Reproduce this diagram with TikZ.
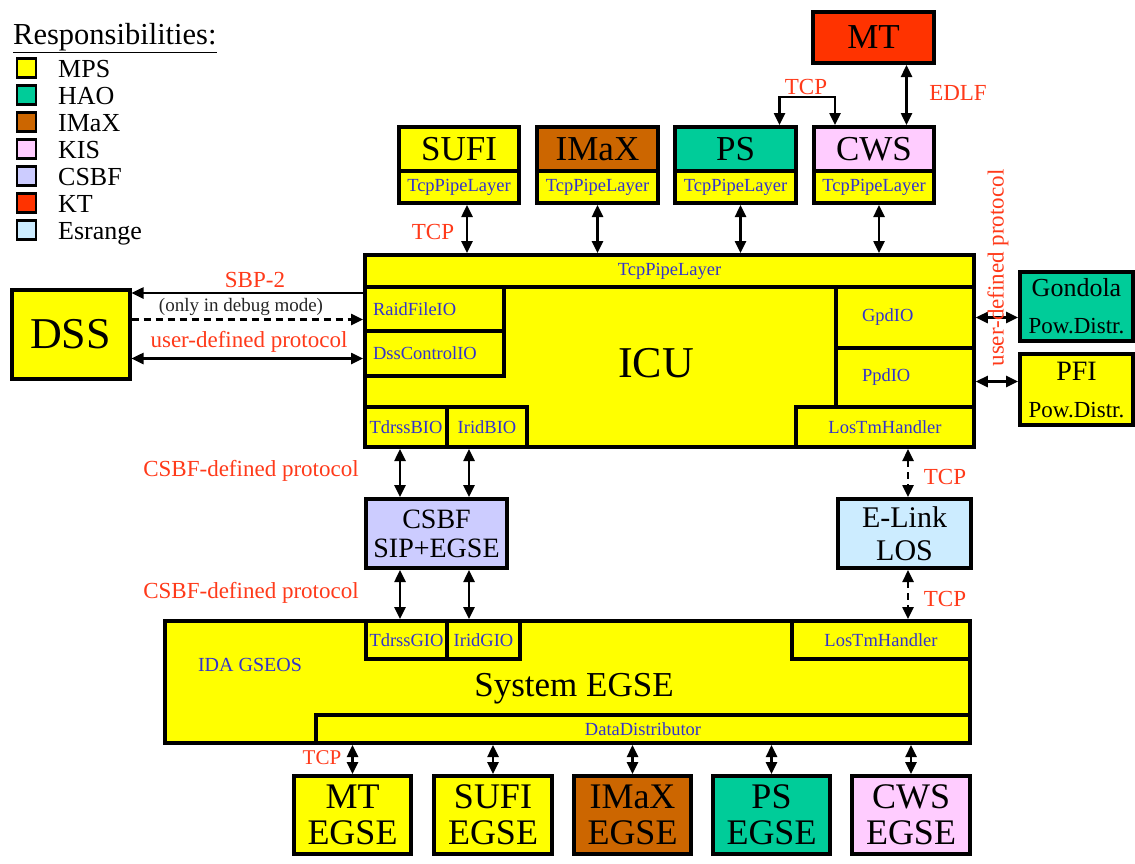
\documentclass[tikz,border=0pt]{standalone}
\usepackage{fontspec}
\setmainfont{Liberation Serif}
\usetikzlibrary{arrows.meta}
\definecolor{cmps}{HTML}{FFFF00}
\definecolor{chao}{HTML}{00CC99}
\definecolor{cimax}{HTML}{CC6600}
\definecolor{ckis}{HTML}{FFCCFF}
\definecolor{ccsbf}{HTML}{CCCCFF}
\definecolor{ckt}{HTML}{FF3300}
\definecolor{cesr}{HTML}{CCECFF}
\definecolor{cred}{HTML}{FF3A1A}
\definecolor{cblue}{HTML}{3333CC}
\newcommand\fLegT{\fontsize{30.5}{32}\selectfont}
\newcommand\fLeg{\fontsize{26}{28}\selectfont}
\newcommand\fTtl{\fontsize{35}{37}\selectfont}
\newcommand\fSub{\fontsize{18.5}{20}\selectfont}
\newcommand\fRed{\fontsize{23}{25}\selectfont}
\newcommand\fDbg{\fontsize{19}{21}\selectfont}
\newcommand\fDSS{\fontsize{44}{46}\selectfont}
\newcommand\fICU{\fontsize{44}{46}\selectfont}
\newcommand\fSys{\fontsize{35}{37}\selectfont}
\newcommand\fEG{\fontsize{36}{36}\selectfont}
\begin{document}
\begin{tikzpicture}[x=1pt,y=-1pt,
  bx/.style={draw=black,line width=4pt,inner sep=0pt},
  sb/.style={draw=black,line width=3.5pt,fill=cmps,inner sep=0pt,text=cblue,font=\fSub},
  lab/.style={text=cred,font=\fRed,inner sep=0pt},
  legbox/.style={draw=black,line width=2.5pt,minimum width=19pt,minimum height=19pt,inner sep=0pt},
  lgt/.style={anchor=base west,font=\fLeg,inner sep=0pt},
  tip/.style={line width=2.5pt,-{Triangle[length=12pt,width=11pt]}},
  dtip/.style={line width=2.5pt,{Triangle[length=12pt,width=11pt]}-{Triangle[length=12pt,width=11pt]}},
  dsh/.style={dash pattern=on 7pt off 5pt}]
\useasboundingbox[fill=white] (0,0) rectangle (1135,863);

% ---------- legend ----------
\node[anchor=base west,font=\fLegT,inner sep=0pt] (legT) at (13,44) {\underline{Responsibilities:}};
\node[legbox,fill=cmps]  (l1) at (26.5,68)  {};
\node[legbox,fill=chao]  (l2) at (26.5,95)  {};
\node[legbox,fill=cimax] (l3) at (26.5,122) {};
\node[legbox,fill=ckis]  (l4) at (26.5,149) {};
\node[legbox,fill=ccsbf] (l5) at (26.5,176) {};
\node[legbox,fill=ckt]   (l6) at (26.5,203) {};
\node[legbox,fill=cesr]  (l7) at (26.5,230) {};
\node[lgt] (l1t) at (58,77)  {MPS};
\node[lgt] (l2t) at (58,104) {HAO};
\node[lgt] (l3t) at (58,131) {IMaX};
\node[lgt] (l4t) at (58,158) {KIS};
\node[lgt] (l5t) at (58,185) {CSBF};
\node[lgt] (l6t) at (58,212) {KT};
\node[lgt] (l7t) at (58,239) {Esrange};

% ---------- top boxes ----------
\node[bx,fill=ckt,minimum width=121pt,minimum height=51pt,font=\fTtl] (mt) at (873.5,37.5) {MT};

\node[bx,fill=cmps,minimum width=120pt,minimum height=44pt,font=\fTtl] (sufiT) at (459,149) {SUFI};
\node[bx,fill=cmps,minimum width=120pt,minimum height=32pt,font=\fSub,text=cblue] (sufiL) at (459,187) {TcpPipeLayer};
\node[bx,fill=cimax,minimum width=121pt,minimum height=44pt,font=\fTtl] (imaxT) at (597.5,149) {IMaX};
\node[bx,fill=cmps,minimum width=121pt,minimum height=32pt,font=\fSub,text=cblue] (imaxL) at (597.5,187) {TcpPipeLayer};
\node[bx,fill=chao,minimum width=121pt,minimum height=44pt,font=\fTtl] (psT) at (735.5,149) {PS};
\node[bx,fill=cmps,minimum width=121pt,minimum height=32pt,font=\fSub,text=cblue] (psL) at (735.5,187) {TcpPipeLayer};
\node[bx,fill=ckis,minimum width=120pt,minimum height=44pt,font=\fTtl] (cwsT) at (874,149) {CWS};
\node[bx,fill=cmps,minimum width=120pt,minimum height=32pt,font=\fSub,text=cblue] (cwsL) at (874,187) {TcpPipeLayer};

% ---------- ICU ----------
\node[bx,fill=cmps,minimum width=609pt,minimum height=192pt] (icu) at (669.5,351) {};
\node[sb,minimum width=609pt,minimum height=32pt] (icuTcp) at (669.5,271) {TcpPipeLayer};
\node[sb,minimum height=44pt,text width=123pt,inner xsep=8pt,align=left] (raid) at (434.5,309) {RaidFileIO};
\node[sb,minimum height=45pt,text width=123pt,inner xsep=8pt,align=left] (dssc) at (434.5,353.5) {DssControlIO};
\node[sb,minimum height=61pt,text width=86pt,inner xsep=26pt,align=left] (gpd) at (905,317.5) {GpdIO};
\node[sb,minimum height=59pt,text width=86pt,inner xsep=26pt,align=left] (ppd) at (905,377.5) {PpdIO};
\node[sb,minimum width=82pt,minimum height=40pt] (tdb) at (406,427) {TdrssBIO};
\node[sb,minimum width=80pt,minimum height=40pt] (irb) at (487,427) {IridBIO};
\node[sb,minimum width=178pt,minimum height=40pt] (losI) at (885,427) {LosTmHandler};
\node[font=\fICU,inner sep=0pt] (icuText) at (656,363) {ICU};

% ---------- DSS ----------
\node[bx,fill=cmps,minimum width=118pt,minimum height=89pt,font=\fDSS] (dss) at (70.5,334) {DSS};

% ---------- right side ----------
\node[bx,fill=chao,minimum width=113pt,minimum height=69pt,align=center,
      font=\fontsize{26}{37}\selectfont] (gond) at (1076.5,306.5) {Gondola\\\fontsize{23}{37}\selectfont Pow.Distr.};
\node[bx,fill=cmps,minimum width=113pt,minimum height=71pt,align=center,
      font=\fontsize{28}{37}\selectfont] (pfi) at (1076.5,389.5) {PFI\\\fontsize{23}{37}\selectfont Pow.Distr.};

% ---------- middle ----------
\node[bx,fill=ccsbf,minimum width=141pt,minimum height=69pt,align=center,
      font=\fontsize{28}{29}\selectfont] (csbf) at (436.5,533.5) {CSBF\\SIP+EGSE};
\node[bx,fill=cesr,minimum width=133pt,minimum height=69pt,align=center,
      font=\fontsize{30}{33}\selectfont] (elink) at (904.5,533.5) {E-Link\\LOS};

% ---------- System EGSE ----------
\node[bx,fill=cmps,minimum width=805pt,minimum height=122pt] (sys) at (567.5,682) {};
\node[sb,minimum width=81pt,minimum height=38pt] (tdg) at (406.5,640) {TdrssGIO};
\node[sb,minimum width=73pt,minimum height=38pt] (irg) at (483.5,640) {IridGIO};
\node[sb,minimum width=178pt,minimum height=38pt] (losS) at (881,640) {LosTmHandler};
\node[sb,minimum width=654pt,minimum height=28pt] (dd) at (643,729) {DataDistributor};
\node[font=\fSys,inner sep=0pt] (sysText) at (574,689) {System EGSE};
\node[font=\fontsize{20}{22}\selectfont,text=cblue,inner sep=0pt] (ida) at (250,665) {IDA GSEOS};

% ---------- bottom EGSE boxes ----------
\node[bx,fill=cmps,minimum width=117pt,minimum height=78pt,align=center,font=\fEG] (mtE) at (352.5,815) {MT\\EGSE};
\node[bx,fill=cmps,minimum width=118pt,minimum height=78pt,align=center,font=\fEG] (sufiE) at (493,815) {SUFI\\EGSE};
\node[bx,fill=cimax,minimum width=117pt,minimum height=78pt,align=center,font=\fEG] (imaxE) at (632.5,815) {IMaX\\EGSE};
\node[bx,fill=chao,minimum width=117pt,minimum height=78pt,align=center,font=\fEG] (psE) at (771.5,815) {PS\\EGSE};
\node[bx,fill=ckis,minimum width=118pt,minimum height=78pt,align=center,font=\fEG] (cwsE) at (911,815) {CWS\\EGSE};

% ---------- connectors: top ----------
\coordinate (a1) at ([xshift=8pt]sufiL.south);
\coordinate (a2) at (imaxL.south);
\coordinate (a3) at ([xshift=5pt]psL.south);
\coordinate (a4) at ([xshift=5pt]cwsL.south);
\draw[dtip] (a1) -- (a1 |- icu.north);
\draw[dtip] (a2) -- (a2 |- icu.north);
\draw[dtip] (a3) -- (a3 |- icu.north);
\draw[dtip] (a4) -- (a4 |- icu.north);
\node[lab] (tcp1) at (433,232) {TCP};

\coordinate (t1) at ([xshift=44pt]psT.north);
\coordinate (t2) at ([xshift=-39pt]cwsT.north);
\draw[dtip] (t1) -- ++(0,-28) -| (t2);
\node[lab] (tcp2) at (806,87) {TCP};

\coordinate (e1) at ([xshift=33pt]mt.south);
\draw[dtip] (e1) -- (e1 |- cwsT.north);
\node[lab] (edlf) at (958,93) {EDLF};

% ---------- connectors: DSS ----------
\coordinate (s1) at ([yshift=-40pt]icu.north west);
\draw[tip] (s1) -- (s1 -| dss.east);
\node[lab] (sbp) at (255,280) {SBP-2};
\coordinate (s2) at ([yshift=-32pt]dss.north east);
\draw[tip,dsh] (s2) -- (s2 -| icu.west);
\node[font=\fDbg,inner sep=0pt,text=black!85] (dbg) at (241,307) {(only in debug mode)};
\coordinate (s3) at ([yshift=-71pt]dss.north east);
\draw[dtip] (s3) -- (s3 -| icu.west);
\node[lab] (udp1) at (249,342) {user-defined protocol};

% ---------- connectors: right ----------
\draw[dtip] (gpd.east) -- (gpd.east -| gond.west);
\coordinate (p1) at ([yshift=-4pt]ppd.east);
\draw[dtip] (p1) -- (p1 -| pfi.west);
\node[lab,rotate=90] (udp2) at (998,268) {user-defined protocol};

% ---------- connectors: CSBF ----------
\coordinate (c1) at ([xshift=-36.5pt]csbf.north);
\coordinate (c2) at ([xshift=32.5pt]csbf.north);
\draw[dtip] (c1 |- icu.south) -- (c1);
\draw[dtip] (c2 |- icu.south) -- (c2);
\draw[dtip] (c1 |- csbf.south) -- (c1 |- sys.north);
\draw[dtip] (c2 |- csbf.south) -- (c2 |- sys.north);
\node[lab] (csp1) at (251,471) {CSBF-defined protocol};
\node[lab] (csp2) at (251,593) {CSBF-defined protocol};

% ---------- connectors: E-Link ----------
\coordinate (k1) at ([xshift=3.5pt]elink.north);
\draw[dtip,dsh] (k1 |- icu.south) -- (k1);
\draw[dtip,dsh] (k1 |- elink.south) -- (k1 |- sys.north);
\node[lab] (tcp3) at (945,477) {TCP};
\node[lab] (tcp4) at (945,599) {TCP};

% ---------- connectors: bottom ----------
\draw[dtip] (mtE.north) -- (mtE.north |- sys.south);
\draw[dtip] (sufiE.north) -- (sufiE.north |- sys.south);
\draw[dtip] (imaxE.north) -- (imaxE.north |- sys.south);
\draw[dtip] (psE.north) -- (psE.north |- sys.south);
\draw[dtip] (cwsE.north) -- (cwsE.north |- sys.south);
\node[lab,font=\fontsize{21}{23}\selectfont] (tcp5) at (322,758) {TCP};
\end{tikzpicture}
\end{document}
